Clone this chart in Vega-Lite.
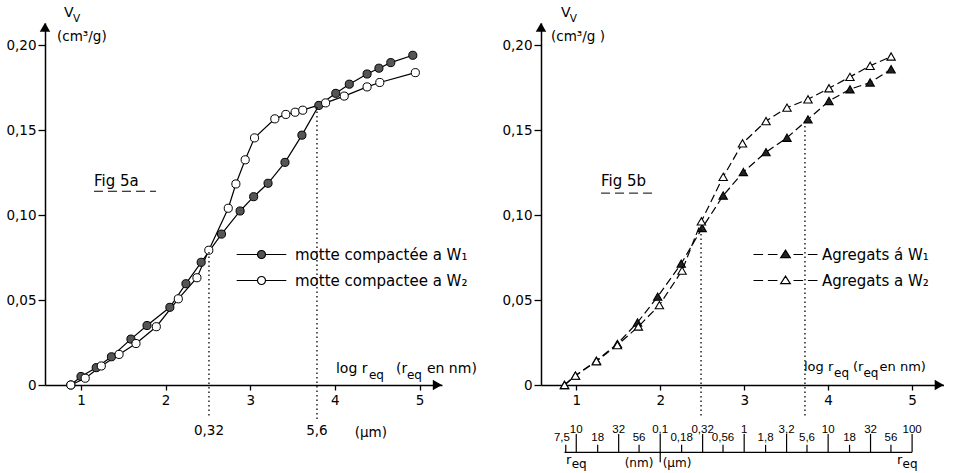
{
"$schema": "https://vega.github.io/schema/vega-lite/v6.json",
"padding": {"left": 5, "top": 6, "right": 0, "bottom": 0},
"bounds": "flush",
"spacing": 99,
"config": {
  "font": "DejaVu Sans",
  "view": {"stroke": null},
  "axis": {"grid": false, "domainColor": "black", "tickColor": "black", "labelColor": "black", "labelFont": "DejaVu Sans", "labelFontSize": 13.5, "domainWidth": 1.5, "tickWidth": 1.3},
  "text": {"color": "black"}
},
"datasets": {
  "fig5a": [
    {"series": "motte compactée a W₁", "logr": 0.88, "vv": 0.0},
    {"series": "motte compactée a W₁", "logr": 1.00, "vv": 0.005},
    {"series": "motte compactée a W₁", "logr": 1.18, "vv": 0.0102},
    {"series": "motte compactée a W₁", "logr": 1.36, "vv": 0.0166},
    {"series": "motte compactée a W₁", "logr": 1.59, "vv": 0.027},
    {"series": "motte compactée a W₁", "logr": 1.78, "vv": 0.035},
    {"series": "motte compactée a W₁", "logr": 2.05, "vv": 0.0457},
    {"series": "motte compactée a W₁", "logr": 2.24, "vv": 0.0596},
    {"series": "motte compactée a W₁", "logr": 2.42, "vv": 0.0722},
    {"series": "motte compactée a W₁", "logr": 2.66, "vv": 0.0888},
    {"series": "motte compactée a W₁", "logr": 2.88, "vv": 0.1024},
    {"series": "motte compactée a W₁", "logr": 3.04, "vv": 0.1108},
    {"series": "motte compactée a W₁", "logr": 3.21, "vv": 0.1187},
    {"series": "motte compactée a W₁", "logr": 3.41, "vv": 0.131},
    {"series": "motte compactée a W₁", "logr": 3.61, "vv": 0.147},
    {"series": "motte compactée a W₁", "logr": 3.81, "vv": 0.1645},
    {"series": "motte compactée a W₁", "logr": 4.01, "vv": 0.1716},
    {"series": "motte compactée a W₁", "logr": 4.17, "vv": 0.177},
    {"series": "motte compactée a W₁", "logr": 4.38, "vv": 0.183},
    {"series": "motte compactée a W₁", "logr": 4.52, "vv": 0.1864},
    {"series": "motte compactée a W₁", "logr": 4.66, "vv": 0.1897},
    {"series": "motte compactée a W₁", "logr": 4.92, "vv": 0.194},
    {"series": "motte compactee a W₂", "logr": 0.88, "vv": 0.0},
    {"series": "motte compactee a W₂", "logr": 1.05, "vv": 0.004},
    {"series": "motte compactee a W₂", "logr": 1.24, "vv": 0.0112},
    {"series": "motte compactee a W₂", "logr": 1.45, "vv": 0.018},
    {"series": "motte compactee a W₂", "logr": 1.65, "vv": 0.0244},
    {"series": "motte compactee a W₂", "logr": 1.89, "vv": 0.0343},
    {"series": "motte compactee a W₂", "logr": 2.15, "vv": 0.0507},
    {"series": "motte compactee a W₂", "logr": 2.37, "vv": 0.0631},
    {"series": "motte compactee a W₂", "logr": 2.51, "vv": 0.0793},
    {"series": "motte compactee a W₂", "logr": 2.74, "vv": 0.104},
    {"series": "motte compactee a W₂", "logr": 2.83, "vv": 0.1183},
    {"series": "motte compactee a W₂", "logr": 2.94, "vv": 0.1325},
    {"series": "motte compactee a W₂", "logr": 3.05, "vv": 0.1454},
    {"series": "motte compactee a W₂", "logr": 3.29, "vv": 0.1566},
    {"series": "motte compactee a W₂", "logr": 3.42, "vv": 0.1592},
    {"series": "motte compactee a W₂", "logr": 3.53, "vv": 0.1605},
    {"series": "motte compactee a W₂", "logr": 3.62, "vv": 0.1617},
    {"series": "motte compactee a W₂", "logr": 3.89, "vv": 0.166},
    {"series": "motte compactee a W₂", "logr": 4.11, "vv": 0.17},
    {"series": "motte compactee a W₂", "logr": 4.38, "vv": 0.1754},
    {"series": "motte compactee a W₂", "logr": 4.53, "vv": 0.178},
    {"series": "motte compactee a W₂", "logr": 4.95, "vv": 0.1838}
  ],
  "fig5b": [
    {"series": "Agregats á W₁", "logr": 0.86, "vv": 0.0},
    {"series": "Agregats á W₁", "logr": 0.99, "vv": 0.0055},
    {"series": "Agregats á W₁", "logr": 1.24, "vv": 0.0143},
    {"series": "Agregats á W₁", "logr": 1.49, "vv": 0.0242},
    {"series": "Agregats á W₁", "logr": 1.73, "vv": 0.0368},
    {"series": "Agregats á W₁", "logr": 1.97, "vv": 0.052},
    {"series": "Agregats á W₁", "logr": 2.25, "vv": 0.0714},
    {"series": "Agregats á W₁", "logr": 2.50, "vv": 0.0924},
    {"series": "Agregats á W₁", "logr": 2.75, "vv": 0.1115},
    {"series": "Agregats á W₁", "logr": 2.99, "vv": 0.1253},
    {"series": "Agregats á W₁", "logr": 3.26, "vv": 0.137},
    {"series": "Agregats á W₁", "logr": 3.51, "vv": 0.1455},
    {"series": "Agregats á W₁", "logr": 3.76, "vv": 0.1563},
    {"series": "Agregats á W₁", "logr": 4.01, "vv": 0.1671},
    {"series": "Agregats á W₁", "logr": 4.26, "vv": 0.174},
    {"series": "Agregats á W₁", "logr": 4.50, "vv": 0.178},
    {"series": "Agregats á W₁", "logr": 4.75, "vv": 0.1858},
    {"series": "Agregats a W₂", "logr": 0.86, "vv": 0.0},
    {"series": "Agregats a W₂", "logr": 0.99, "vv": 0.0055},
    {"series": "Agregats a W₂", "logr": 1.24, "vv": 0.014},
    {"series": "Agregats a W₂", "logr": 1.49, "vv": 0.0235},
    {"series": "Agregats a W₂", "logr": 1.74, "vv": 0.0344},
    {"series": "Agregats a W₂", "logr": 1.99, "vv": 0.047},
    {"series": "Agregats a W₂", "logr": 2.26, "vv": 0.0673},
    {"series": "Agregats a W₂", "logr": 2.49, "vv": 0.0963},
    {"series": "Agregats a W₂", "logr": 2.75, "vv": 0.1225},
    {"series": "Agregats a W₂", "logr": 2.98, "vv": 0.1422},
    {"series": "Agregats a W₂", "logr": 3.26, "vv": 0.1553},
    {"series": "Agregats a W₂", "logr": 3.51, "vv": 0.1632},
    {"series": "Agregats a W₂", "logr": 3.76, "vv": 0.1681},
    {"series": "Agregats a W₂", "logr": 4.01, "vv": 0.1746},
    {"series": "Agregats a W₂", "logr": 4.26, "vv": 0.1813},
    {"series": "Agregats a W₂", "logr": 4.50, "vv": 0.1878},
    {"series": "Agregats a W₂", "logr": 4.75, "vv": 0.1933}
  ],
  "scaleB": [
    {"v": 0.875, "lab": "7,5", "kind": "start"},
    {"v": 1.0, "lab": "10", "kind": "major"},
    {"v": 1.255, "lab": "18", "kind": "minor"},
    {"v": 1.505, "lab": "32", "kind": "mid"},
    {"v": 1.748, "lab": "56", "kind": "minor"},
    {"v": 2.0, "lab": "0,1", "kind": "major"},
    {"v": 2.255, "lab": "0,18", "kind": "minor"},
    {"v": 2.505, "lab": "0,32", "kind": "mid"},
    {"v": 2.748, "lab": "0,56", "kind": "minor"},
    {"v": 3.0, "lab": "1", "kind": "major"},
    {"v": 3.255, "lab": "1,8", "kind": "minor"},
    {"v": 3.505, "lab": "3,2", "kind": "mid"},
    {"v": 3.748, "lab": "5,6", "kind": "minor"},
    {"v": 4.0, "lab": "10", "kind": "major"},
    {"v": 4.255, "lab": "18", "kind": "minor"},
    {"v": 4.505, "lab": "32", "kind": "mid"},
    {"v": 4.748, "lab": "56", "kind": "minor"},
    {"v": 5.0, "lab": "100", "kind": "major"}
  ]
},
"resolve": {"scale": {"x": "independent", "y": "independent", "fill": "independent"}, "legend": {"fill": "independent"}},
"hconcat": [
{
  "width": 397, "height": 362,
  "layer": [
    {"data": {"name": "fig5a"},
     "mark": {"type": "line", "color": "black", "strokeWidth": 1.2},
     "encoding": {
       "x": {"field": "logr", "type": "quantitative", "scale": {"domain": [0.575, 5.265], "nice": false, "zero": false},
             "axis": {"values": [1, 2, 3, 4, 5], "format": "d", "title": null, "tickSize": 5, "labelPadding": 3}},
       "y": {"field": "vv", "type": "quantitative", "scale": {"domain": [0, 0.213], "nice": false},
             "axis": {"values": [0, 0.05, 0.1, 0.15, 0.2], "title": null, "tickSize": 7, "labelPadding": 2,
                      "labelExpr": "datum.value == 0 ? '0' : replace(format(datum.value, '.2f'), '.', ',')"}},
       "detail": {"field": "series", "type": "nominal"}
     }},
    {"data": {"name": "fig5a"},
     "mark": {"type": "point", "shape": "circle", "filled": true, "stroke": "black", "strokeWidth": 1, "size": 66, "opacity": 1},
     "encoding": {
       "x": {"field": "logr", "type": "quantitative"},
       "y": {"field": "vv", "type": "quantitative"},
       "fill": {"field": "series", "type": "nominal",
                "scale": {"domain": ["motte compactée a W₁", "motte compactee a W₂"], "range": ["#555555", "#ffffff"]},
                "legend": {"title": null, "orient": "none", "legendX": 209, "legendY": 224, "padding": 0,
                           "symbolType": "M-6.2,0H-1M1,0H6.2M-1,0A1,1 0 1,1 1,0A1,1 0 1,1 -1,0Z",
                           "symbolSize": 64, "symbolStrokeColor": "black", "symbolStrokeWidth": 1.2, "labelLimit": 0,
                           "labelFontSize": 15, "labelOffset": 26, "rowPadding": 10, "labelColor": "black", "labelFont": "DejaVu Sans"}}
     }},
    {"data": {"values": [{}]}, "mark": {"type": "point", "shape": "triangle-up", "filled": true, "color": "black", "size": 110, "opacity": 1},
     "encoding": {"x": {"datum": 0.575, "type": "quantitative"}, "y": {"datum": 0.2105, "type": "quantitative"}}},
    {"data": {"values": [{}]}, "mark": {"type": "point", "shape": "triangle-right", "filled": true, "color": "black", "size": 110, "opacity": 1},
     "encoding": {"x": {"datum": 5.21, "type": "quantitative"}, "y": {"datum": 0, "type": "quantitative"}}},
    {"data": {"values": [{}]}, "mark": {"type": "rule", "color": "black", "strokeDash": [1.5, 3], "strokeWidth": 1.3},
     "encoding": {"x": {"datum": 2.512, "type": "quantitative"}, "y": {"datum": -0.018, "type": "quantitative"}, "y2": {"datum": 0.079}}},
    {"data": {"values": [{}]}, "mark": {"type": "rule", "color": "black", "strokeDash": [1.5, 3], "strokeWidth": 1.3},
     "encoding": {"x": {"datum": 3.788, "type": "quantitative"}, "y": {"datum": -0.02, "type": "quantitative"}, "y2": {"datum": 0.1645}}},
    {"data": {"values": [{}]}, "mark": {"type": "text", "text": "0,32", "align": "center", "baseline": "middle", "fontSize": 13.5},
     "encoding": {"x": {"datum": 2.512, "type": "quantitative"}, "y": {"datum": -0.0272, "type": "quantitative"}}},
    {"data": {"values": [{}]}, "mark": {"type": "text", "text": "5,6", "align": "center", "baseline": "middle", "fontSize": 13.5},
     "encoding": {"x": {"datum": 3.788, "type": "quantitative"}, "y": {"datum": -0.0272, "type": "quantitative"}}},
    {"data": {"values": [{}]}, "mark": {"type": "text", "text": "(µm)", "align": "center", "baseline": "middle", "fontSize": 13.5},
     "encoding": {"x": {"datum": 4.425, "type": "quantitative"}, "y": {"datum": -0.0285, "type": "quantitative"}}},
    {"data": {"values": [{}]}, "mark": {"type": "text", "text": "Fig 5a", "align": "left", "baseline": "middle", "fontSize": 15},
     "encoding": {"x": {"datum": 1.154, "type": "quantitative"}, "y": {"datum": 0.12, "type": "quantitative"}}},
    {"data": {"values": [{}]}, "mark": {"type": "rule", "color": "black", "strokeDash": [9, 5], "strokeWidth": 1},
     "encoding": {"x": {"datum": 1.154, "type": "quantitative"}, "x2": {"datum": 1.886}, "y": {"datum": 0.114, "type": "quantitative"}}},
    {"data": {"values": [{}]}, "mark": {"type": "text", "text": "V", "align": "left", "baseline": "alphabetic", "fontSize": 14},
     "encoding": {"x": {"datum": 0.80, "type": "quantitative"}, "y": {"datum": 0.2165, "type": "quantitative"}}},
    {"data": {"values": [{}]}, "mark": {"type": "text", "text": "V", "align": "left", "baseline": "alphabetic", "fontSize": 10.5},
     "encoding": {"x": {"datum": 0.905, "type": "quantitative"}, "y": {"datum": 0.2138, "type": "quantitative"}}},
    {"data": {"values": [{}]}, "mark": {"type": "text", "text": "(cm³/g)", "align": "left", "baseline": "alphabetic", "fontSize": 13.5},
     "encoding": {"x": {"datum": 0.717, "type": "quantitative"}, "y": {"datum": 0.2025, "type": "quantitative"}}},
    {"data": {"values": [{}]}, "mark": {"type": "text", "text": "log r", "align": "left", "baseline": "alphabetic", "fontSize": 14},
     "encoding": {"x": {"datum": 4.012, "type": "quantitative"}, "y": {"datum": 0.0071, "type": "quantitative"}}},
    {"data": {"values": [{}]}, "mark": {"type": "text", "text": "eq", "align": "left", "baseline": "alphabetic", "fontSize": 12},
     "encoding": {"x": {"datum": 4.402, "type": "quantitative"}, "y": {"datum": 0.0038, "type": "quantitative"}}},
    {"data": {"values": [{}]}, "mark": {"type": "text", "text": "(r", "align": "left", "baseline": "alphabetic", "fontSize": 14},
     "encoding": {"x": {"datum": 4.721, "type": "quantitative"}, "y": {"datum": 0.0071, "type": "quantitative"}}},
    {"data": {"values": [{}]}, "mark": {"type": "text", "text": "eq", "align": "left", "baseline": "alphabetic", "fontSize": 12},
     "encoding": {"x": {"datum": 4.851, "type": "quantitative"}, "y": {"datum": 0.0038, "type": "quantitative"}}},
    {"data": {"values": [{}]}, "mark": {"type": "text", "text": "en nm)", "align": "left", "baseline": "alphabetic", "fontSize": 14},
     "encoding": {"x": {"datum": 5.087, "type": "quantitative"}, "y": {"datum": 0.0071, "type": "quantitative"}}}
  ]
},
{
  "width": 403, "height": 362,
  "layer": [
    {"data": {"name": "fig5b"},
     "mark": {"type": "line", "color": "black", "strokeWidth": 1.2, "strokeDash": [8, 4]},
     "encoding": {
       "x": {"field": "logr", "type": "quantitative", "scale": {"domain": [0.58, 5.38], "nice": false, "zero": false},
             "axis": {"values": [1, 2, 3, 4, 5], "format": "d", "title": null, "tickSize": 5, "labelPadding": 3}},
       "y": {"field": "vv", "type": "quantitative", "scale": {"domain": [0, 0.213], "nice": false},
             "axis": {"values": [0, 0.05, 0.1, 0.15, 0.2], "title": null, "tickSize": 7, "labelPadding": 2,
                      "labelExpr": "datum.value == 0 ? '0' : replace(format(datum.value, '.2f'), '.', ',')"}},
       "detail": {"field": "series", "type": "nominal"}
     }},
    {"data": {"name": "fig5b"},
     "mark": {"type": "point", "shape": "triangle-up", "filled": true, "stroke": "black", "strokeWidth": 1.1, "size": 70, "opacity": 1},
     "encoding": {
       "x": {"field": "logr", "type": "quantitative"},
       "y": {"field": "vv", "type": "quantitative"},
       "fill": {"field": "series", "type": "nominal",
                "scale": {"domain": ["Agregats á W₁", "Agregats a W₂"], "range": ["#222222", "#ffffff"]},
                "legend": {"title": null, "orient": "none", "legendX": 237, "legendY": 224, "padding": 0,
                           "symbolType": "M-8,0H-5.6M-4.4,0H-2M2,0H4.4M5.6,0H8M0,-1.1L1.2,0.8L-1.2,0.8Z",
                           "symbolSize": 64, "symbolStrokeColor": "black", "symbolStrokeWidth": 1.2, "labelLimit": 0,
                           "labelFontSize": 15, "labelOffset": 29, "rowPadding": 10, "labelColor": "black", "labelFont": "DejaVu Sans"}}
     }},
    {"data": {"values": [{}]}, "mark": {"type": "point", "shape": "triangle-up", "filled": true, "color": "black", "size": 110, "opacity": 1},
     "encoding": {"x": {"datum": 0.58, "type": "quantitative"}, "y": {"datum": 0.2105, "type": "quantitative"}}},
    {"data": {"values": [{}]}, "mark": {"type": "point", "shape": "triangle-right", "filled": true, "color": "black", "size": 110, "opacity": 1},
     "encoding": {"x": {"datum": 5.323, "type": "quantitative"}, "y": {"datum": 0, "type": "quantitative"}}},
    {"data": {"values": [{}]}, "mark": {"type": "rule", "color": "black", "strokeDash": [1.5, 3], "strokeWidth": 1.3},
     "encoding": {"x": {"datum": 2.486, "type": "quantitative"}, "y": {"datum": -0.018, "type": "quantitative"}, "y2": {"datum": 0.0924}}},
    {"data": {"values": [{}]}, "mark": {"type": "rule", "color": "black", "strokeDash": [1.5, 3], "strokeWidth": 1.3},
     "encoding": {"x": {"datum": 3.724, "type": "quantitative"}, "y": {"datum": -0.018, "type": "quantitative"}, "y2": {"datum": 0.156}}},
    {"data": {"values": [{}]}, "mark": {"type": "text", "text": "Fig 5b", "align": "left", "baseline": "middle", "fontSize": 15},
     "encoding": {"x": {"datum": 1.295, "type": "quantitative"}, "y": {"datum": 0.12, "type": "quantitative"}}},
    {"data": {"values": [{}]}, "mark": {"type": "rule", "color": "black", "strokeDash": [9, 5], "strokeWidth": 1},
     "encoding": {"x": {"datum": 1.295, "type": "quantitative"}, "x2": {"datum": 1.95}, "y": {"datum": 0.1129, "type": "quantitative"}}},
    {"data": {"values": [{}]}, "mark": {"type": "text", "text": "V", "align": "left", "baseline": "alphabetic", "fontSize": 14},
     "encoding": {"x": {"datum": 0.818, "type": "quantitative"}, "y": {"datum": 0.2165, "type": "quantitative"}}},
    {"data": {"values": [{}]}, "mark": {"type": "text", "text": "V", "align": "left", "baseline": "alphabetic", "fontSize": 10.5},
     "encoding": {"x": {"datum": 0.923, "type": "quantitative"}, "y": {"datum": 0.2138, "type": "quantitative"}}},
    {"data": {"values": [{}]}, "mark": {"type": "text", "text": "(cm³/g )", "align": "left", "baseline": "alphabetic", "fontSize": 13.5},
     "encoding": {"x": {"datum": 0.699, "type": "quantitative"}, "y": {"datum": 0.2025, "type": "quantitative"}}},
    {"data": {"values": [{}]}, "mark": {"type": "text", "text": "log r", "align": "left", "baseline": "alphabetic", "fontSize": 13},
     "encoding": {"x": {"datum": 3.712, "type": "quantitative"}, "y": {"datum": 0.0083, "type": "quantitative"}}},
    {"data": {"values": [{}]}, "mark": {"type": "text", "text": "eq", "align": "left", "baseline": "alphabetic", "fontSize": 12},
     "encoding": {"x": {"datum": 4.07, "type": "quantitative"}, "y": {"datum": 0.0048, "type": "quantitative"}}},
    {"data": {"values": [{}]}, "mark": {"type": "text", "text": "(r", "align": "left", "baseline": "alphabetic", "fontSize": 13},
     "encoding": {"x": {"datum": 4.296, "type": "quantitative"}, "y": {"datum": 0.0083, "type": "quantitative"}}},
    {"data": {"values": [{}]}, "mark": {"type": "text", "text": "eq", "align": "left", "baseline": "alphabetic", "fontSize": 12},
     "encoding": {"x": {"datum": 4.421, "type": "quantitative"}, "y": {"datum": 0.0048, "type": "quantitative"}}},
    {"data": {"values": [{}]}, "mark": {"type": "text", "text": "en nm)", "align": "left", "baseline": "alphabetic", "fontSize": 13},
     "encoding": {"x": {"datum": 4.612, "type": "quantitative"}, "y": {"datum": 0.0083, "type": "quantitative"}}},
    {"data": {"values": [{}]}, "mark": {"type": "rule", "color": "black", "strokeWidth": 1.2},
     "encoding": {"x": {"datum": 0.86, "type": "quantitative"}, "x2": {"datum": 5.0}, "y": {"datum": -0.0396, "type": "quantitative"}}},
    {"data": {"name": "scaleB"}, "transform": [{"filter": "datum.kind == 'major' || datum.kind == 'mid'"}],
     "mark": {"type": "rule", "color": "black", "strokeWidth": 1.2},
     "encoding": {"x": {"field": "v", "type": "quantitative"}, "y": {"datum": -0.0396, "type": "quantitative"}, "y2": {"datum": -0.0288}}},
    {"data": {"name": "scaleB"}, "transform": [{"filter": "datum.kind == 'minor' || datum.kind == 'start'"}],
     "mark": {"type": "rule", "color": "black", "strokeWidth": 1.2},
     "encoding": {"x": {"field": "v", "type": "quantitative"}, "y": {"datum": -0.0396, "type": "quantitative"}, "y2": {"datum": -0.0352}}},
    {"data": {"values": [{}]}, "mark": {"type": "rule", "color": "black", "strokeWidth": 1.2},
     "encoding": {"x": {"datum": 2.0, "type": "quantitative"}, "y": {"datum": -0.0396, "type": "quantitative"}, "y2": {"datum": -0.0455}}},
    {"data": {"name": "scaleB"}, "transform": [{"filter": "datum.kind == 'major' || datum.kind == 'mid'"}],
     "mark": {"type": "text", "align": "center", "baseline": "alphabetic", "fontSize": 11.5, "font": "Liberation Sans"},
     "encoding": {"x": {"field": "v", "type": "quantitative"}, "y": {"datum": -0.0281, "type": "quantitative"}, "text": {"field": "lab"}}},
    {"data": {"name": "scaleB"}, "transform": [{"filter": "datum.kind == 'minor'"}],
     "mark": {"type": "text", "align": "center", "baseline": "alphabetic", "fontSize": 11.5, "font": "Liberation Sans"},
     "encoding": {"x": {"field": "v", "type": "quantitative"}, "y": {"datum": -0.0331, "type": "quantitative"}, "text": {"field": "lab"}}},
    {"data": {"name": "scaleB"}, "transform": [{"filter": "datum.kind == 'start'"}],
     "mark": {"type": "text", "align": "right", "baseline": "alphabetic", "fontSize": 11.5, "font": "Liberation Sans"},
     "encoding": {"x": {"datum": 0.925, "type": "quantitative"}, "y": {"datum": -0.0331, "type": "quantitative"}, "text": {"field": "lab"}}},
    {"data": {"values": [{}]}, "mark": {"type": "text", "text": "r", "align": "left", "baseline": "alphabetic", "fontSize": 13},
     "encoding": {"x": {"datum": 0.878, "type": "quantitative"}, "y": {"datum": -0.0462, "type": "quantitative"}}},
    {"data": {"values": [{}]}, "mark": {"type": "text", "text": "eq", "align": "left", "baseline": "alphabetic", "fontSize": 12},
     "encoding": {"x": {"datum": 0.945, "type": "quantitative"}, "y": {"datum": -0.049, "type": "quantitative"}}},
    {"data": {"values": [{}]}, "mark": {"type": "text", "text": "r", "align": "left", "baseline": "alphabetic", "fontSize": 13},
     "encoding": {"x": {"datum": 4.82, "type": "quantitative"}, "y": {"datum": -0.0462, "type": "quantitative"}}},
    {"data": {"values": [{}]}, "mark": {"type": "text", "text": "eq", "align": "left", "baseline": "alphabetic", "fontSize": 12},
     "encoding": {"x": {"datum": 4.887, "type": "quantitative"}, "y": {"datum": -0.049, "type": "quantitative"}}},
    {"data": {"values": [{}]}, "mark": {"type": "text", "text": "(nm)", "align": "center", "baseline": "middle", "fontSize": 12},
     "encoding": {"x": {"datum": 1.747, "type": "quantitative"}, "y": {"datum": -0.0461, "type": "quantitative"}}},
    {"data": {"values": [{}]}, "mark": {"type": "text", "text": "(µm)", "align": "center", "baseline": "middle", "fontSize": 12},
     "encoding": {"x": {"datum": 2.2, "type": "quantitative"}, "y": {"datum": -0.0461, "type": "quantitative"}}}
  ]
}
]
}
